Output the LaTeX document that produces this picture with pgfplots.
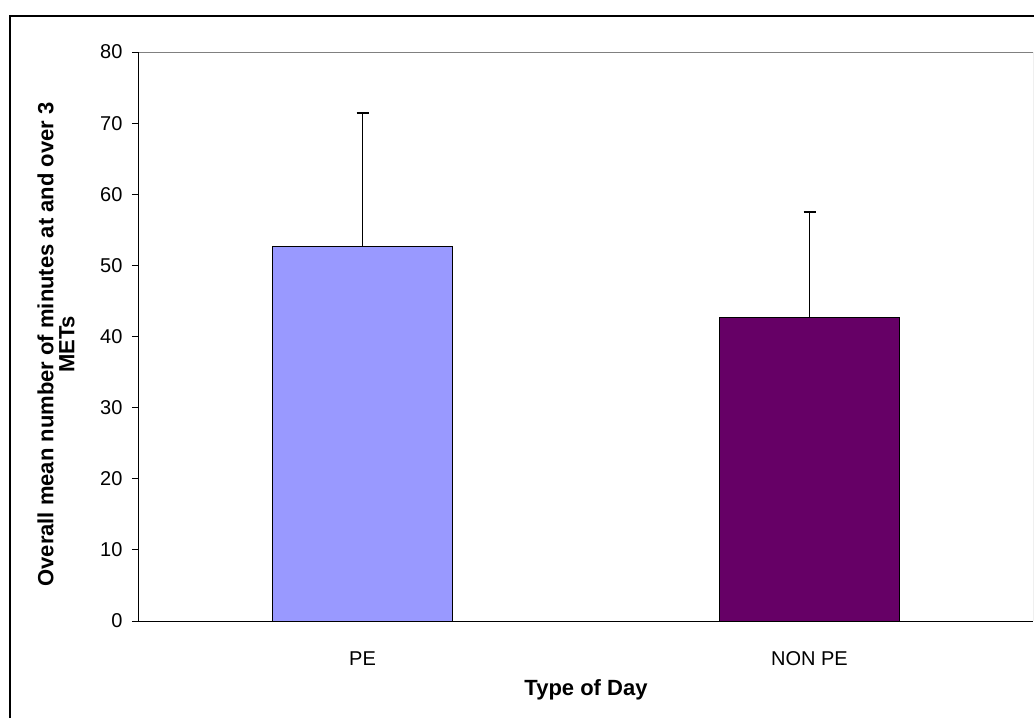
\documentclass[border=0pt]{standalone}
\usepackage{pgfplots}
\pgfplotsset{compat=1.18}
\usepackage{fontspec}
\setmainfont{Liberation Sans}
\definecolor{peblue}{HTML}{9999FF}
\definecolor{nonpe}{HTML}{660066}
\begin{document}
\begin{tikzpicture}[x=1pt,y=1pt]
\path[use as bounding box] (0,0) rectangle (1034,718);
\draw[line width=1.5pt] (10,0) -- (10,702) -- (1034,702);
\begin{axis}[
  at={(139pt,97pt)}, anchor=south west,
  scale only axis, width=894pt, height=569pt,
  xmin=-0.5, xmax=1.5, ymin=0, ymax=80,
  axis lines=left, axis line style={-, line width=1pt},
  ytick={0,10,...,80},
  xtick={0,1}, xticklabels={PE, NON PE},
  major x tick style={draw=none},
  extra x ticks={-0.5,0.5,1.5}, extra x tick labels={},
  extra x tick style={tick style={black, line width=0.8pt}, major tick length=7pt, tick align=outside},
  tick align=outside, major tick length=7pt,
  tick style={black, line width=0.8pt},
  /pgf/number format/assume math mode=true,
  ticklabel style={font=\fontsize{20}{24}\selectfont},
  yticklabel style={xshift=-6pt},
  xticklabel style={yshift=-20pt},
  xlabel={\textbf{Type of Day}},
  xlabel style={font=\fontsize{22}{26}\selectfont, at={(axis description cs:0.5,-0.121)}, anchor=center},
  ylabel={\textbf{Overall mean number of minutes at and over 3}\\\textbf{METs}},
  ylabel style={font=\fontsize{22}{21}\selectfont, align=center, at={(axis description cs:-0.0928,0.486)}, anchor=center},
  ybar, bar width=0.403, bar shift=0pt,
]
\draw[gray, line width=1pt] (rel axis cs:0,1) -- (rel axis cs:1,1) -- (rel axis cs:1,0);
\addplot[fill=peblue, draw=black, line width=0.8pt,
  error bars/.cd, y dir=plus, y explicit, error mark=|,
  error bar style={line width=1.5pt, black}, error mark options={draw=black, line width=1.5pt, mark size=6pt}]
  coordinates {(0,52.7) +- (0,18.7)};
\addplot[fill=nonpe, draw=black, line width=0.8pt,
  error bars/.cd, y dir=plus, y explicit, error mark=|,
  error bar style={line width=1.5pt, black}, error mark options={draw=black, line width=1.5pt, mark size=6pt}]
  coordinates {(1,42.7) +- (0,14.8)};
\end{axis}
\end{tikzpicture}
\end{document}
